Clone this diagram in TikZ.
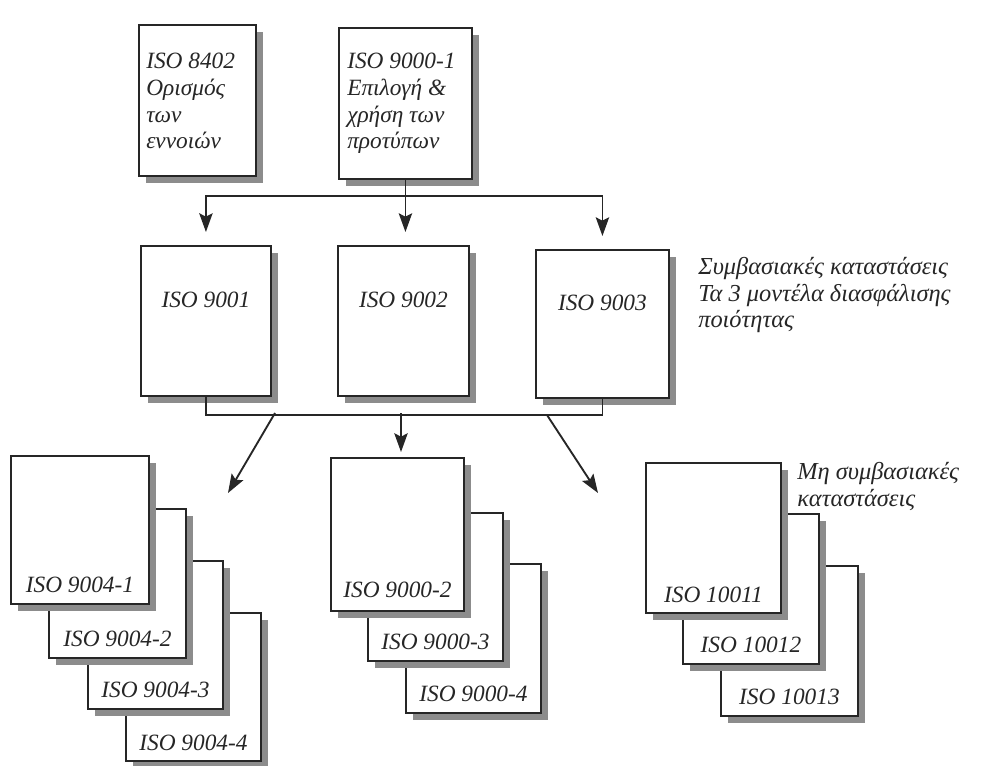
\documentclass[tikz,border=0pt]{standalone}
\usepackage{fontspec}
\setmainfont{Liberation Serif}
\usetikzlibrary{arrows.meta,shadows,calc}
\tikzset{
  card/.style={draw=black!85, line width=1.4pt, fill=white, inner sep=0pt, anchor=north west,
     drop shadow={shadow xshift=5.5pt, shadow yshift=-5.5pt, fill=black!45, opacity=1}},
  dim/.style 2 args={minimum width=#1*0.75pt, minimum height=#2*0.75pt},
  txt/.style={font=\itshape\fontsize{17.5}{20}\selectfont, inner sep=0pt, text=black!85},
  note/.style={txt, font=\itshape\fontsize{18.3}{20}\selectfont, anchor=north west, align=left},
  conn/.style={draw=black!85, line width=1.4pt},
  arr/.style={conn, -{Stealth[length=14pt, width=10pt, inset=2.5pt]}},
  gap/.style={shorten >=#1*0.75pt},
}
\begin{document}
\begin{tikzpicture}[x=0.75pt,y=-0.75pt]
\useasboundingbox (0,0) rectangle (991,766);
\fill[white] (0,0) rectangle (991,766);

% top row
\node[card, dim={117}{151}] (A) at (138,24) {};
\node[card, dim={133}{151}] (B) at (338,27) {};
\node[txt, anchor=north west, align=left] (tA) at (146,53) {ISO 8402\\Ορισμός\\των\\εννοιών};
\node[txt, anchor=north west, align=left] (tB) at (347,53) {ISO 9000-1\\Επιλογή \&\\χρήση των\\προτύπων};

% middle row
\node[card, dim={130}{150}] (M1) at (140,245) {};
\node[card, dim={131}{150}] (M2) at (337,245) {};
\node[card, dim={133}{148}] (M3) at (535,249) {};
\node[txt] (t1) at ($(M1.north)+(0,55)$) {ISO 9001};
\node[txt] (t2) at ($(M2.north)+(0,55)$) {ISO 9002};
\node[txt] (t3) at ($(M3.north)+(0,54)$) {ISO 9003};

\node[note] (g1) at (698,257)
  {Συμβασιακές καταστάσεις\\Τα 3 μοντέλα διασφάλισης\\ποιότητας};

% top connectors
\coordinate (J) at ($(B.south)+(0,16)$);
\draw[arr, gap=13] (B.south) -- (B.south |- M2.north);
\draw[arr, gap=13] (J) -| (M1.north);
\draw[arr, gap=13] (J) -| (M3.north);

% bracket
\coordinate (K) at ($(M1.south)+(0,18)$);
\draw[conn] (M1.south) -- (K) -| (M3.south);

\coordinate (s1) at (275,413); \coordinate (e1) at (228,493);
\coordinate (s2) at (401,413); \coordinate (e2) at (401,452);
\coordinate (s3) at (547,415); \coordinate (e3) at (598,493);
\draw[arr] (s1) -- (e1);
\draw[arr] (s2) -- (e2);
\draw[arr] (s3) -- (e3);

% left stack
\node[card, dim={135}{148}] (L4) at (125,612) {};
\node[card, dim={135}{148}] (L3) at (87,560) {};
\node[card, dim={137}{149}] (L2) at (48,508) {};
\node[card, dim={138}{148}] (L1) at (10,455) {};
\node[txt] (l1) at ($(L1.south)+(0,-20)$) {ISO 9004-1};
\node[txt] (l2) at ($(L2.south)+(0,-20)$) {ISO 9004-2};
\node[txt] (l3) at ($(L3.south)+(0,-20)$) {ISO 9004-3};
\node[txt] (l4) at ($(L4.south)+(0,-19)$) {ISO 9004-4};

% middle stack
\node[card, dim={135}{149}] (C3) at (405,563) {};
\node[card, dim={135}{148}] (C2) at (367,512) {};
\node[card, dim={133}{153}] (C1) at (330,457) {};
\node[txt] (c1) at ($(C1.south)+(0,-22)$) {ISO 9000-2};
\node[txt] (c2) at ($(C2.south)+(0,-20)$) {ISO 9000-3};
\node[txt] (c3) at ($(C3.south)+(0,-20)$) {ISO 9000-4};

% right stack
\node[card, dim={137}{150}] (R3) at (720,565) {};
\node[card, dim={136}{150}] (R2) at (682,513) {};
\node[card, dim={135}{150}] (R1) at (645,462) {};
\node[txt] (r1) at ($(R1.south)+(0,-19)$) {ISO 10011};
\node[txt] (r2) at ($(R2.south)+(0,-20)$) {ISO 10012};
\node[txt] (r3) at ($(R3.south)+(0,-20)$) {ISO 10013};

\node[note] (g2) at (797,462) {Μη συμβασιακές\\καταστάσεις};
\end{tikzpicture}
\end{document}
